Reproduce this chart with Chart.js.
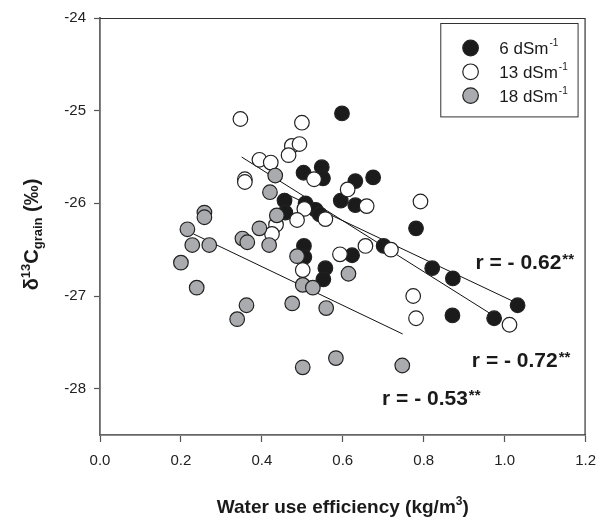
<!DOCTYPE html>
<html>
<head>
<meta charset="utf-8">
<script src="https://cdn.jsdelivr.net/npm/chart.js@4"></script>
<style>
  html, body { margin: 0; padding: 0; background: #fff; }
  #wrap { width: 606px; height: 521px; }
</style>
</head>
<body>
<div id="wrap"><canvas id="c" width="606" height="521"></canvas></div>
<script>
// ---- data ----
const xTicks = [0.0, 0.2, 0.4, 0.6, 0.8, 1.0, 1.2];
const yTicks = [-28, -27, -26, -25, -24];
const seriesNames = ['6 dSm', '13 dSm', '18 dSm'];

const wue6  = [0.598, 0.503, 0.548, 0.551, 0.631, 0.675, 0.456, 0.458, 0.508, 0.533, 0.543, 0.595, 0.631, 0.781, 0.701, 0.504, 0.505, 0.623, 0.557, 0.552, 0.821, 0.872, 1.032, 0.871, 0.974];
const d13c6 = [-25.03, -25.67, -25.61, -25.73, -25.76, -25.72, -25.97, -26.10, -26.00, -26.07, -26.12, -25.97, -26.02, -26.27, -26.46, -26.46, -26.58, -26.56, -26.70, -26.82, -26.70, -26.81, -27.10, -27.21, -27.24];

const wue13  = [0.347, 0.499, 0.474, 0.493, 0.466, 0.394, 0.422, 0.358, 0.358, 0.529, 0.612, 0.659, 0.792, 0.505, 0.487, 0.557, 0.435, 0.425, 0.656, 0.719, 0.593, 0.501, 0.774, 0.781, 1.012];
const d13c13 = [-25.09, -25.13, -25.38, -25.36, -25.48, -25.53, -25.56, -25.74, -25.77, -25.74, -25.85, -26.03, -25.98, -26.06, -26.18, -26.17, -26.23, -26.33, -26.46, -26.50, -26.55, -26.72, -27.00, -27.24, -27.31];

const wue18  = [0.258, 0.258, 0.216, 0.228, 0.270, 0.200, 0.239, 0.339, 0.362, 0.433, 0.420, 0.437, 0.394, 0.352, 0.364, 0.418, 0.487, 0.501, 0.526, 0.614, 0.475, 0.559, 0.583, 0.501, 0.747];
const d13c18 = [-26.10, -26.15, -26.28, -26.45, -26.45, -26.64, -26.91, -27.25, -27.10, -25.70, -25.88, -26.13, -26.27, -26.38, -26.42, -26.45, -26.57, -26.88, -26.91, -26.76, -27.08, -27.13, -27.67, -27.77, -27.75];

// regression line end points
const fit6X  = [0.456, 1.032];
const fit6Y  = [-25.89, -27.08];
const fit13X = [0.350, 0.990];
const fit13Y = [-25.50, -27.26];
const fit18X = [0.231, 0.748];
const fit18Y = [-26.33, -27.41];

const rLabels = ['r = - 0.62', 'r = - 0.72', 'r = - 0.53'];
const rLabelX = [0.928, 0.919, 0.697];
const rLabelY = [-26.63, -27.69, -28.10];

// ---- styling ----
const FONT = "'Liberation Sans', Arial, Helvetica, sans-serif";
const fills = ['#1b1b1b', '#ffffff', '#a9abae'];
const EDGE = '#222';

const pts = (xs, ys) => xs.map((x, i) => ({ x: x, y: ys[i] }));

const lineDs = (xs, ys) => ({
  type: 'line', data: pts(xs, ys), borderColor: '#111', borderWidth: 1,
  pointRadius: 0, fill: false, order: 10, tension: 0
});

const scatterDs = (label, xs, ys, idx, order) => ({
  type: 'scatter', label: label, data: pts(xs, ys),
  backgroundColor: fills[idx], borderColor: EDGE, borderWidth: 1.2,
  pointRadius: 7.3, pointHoverRadius: 7.3, order: order
});

const decor = {
  id: 'decor',
  afterDraw(chart) {
    const ctx = chart.ctx;
    const ca = chart.chartArea;
    const xs = chart.scales.x, ys = chart.scales.y;
    ctx.save();
    // top & right frame
    ctx.strokeStyle = '#333';
    ctx.lineWidth = 1.2;
    ctx.beginPath();
    ctx.moveTo(ca.left, ca.top + 0.5);
    ctx.lineTo(ca.right - 0.5, ca.top + 0.5);
    ctx.lineTo(ca.right - 0.5, ca.bottom);
    ctx.stroke();

    // legend box
    const bx = ca.right - 145.3, by = ca.top + 5, bw = 137.3, bh = 93.4;
    ctx.strokeStyle = '#333';
    ctx.lineWidth = 1;
    ctx.strokeRect(bx + 0.5, by + 0.5, bw, bh);
    for (let i = 0; i < seriesNames.length; i++) {
      const cy = by + 25 + i * 23.8;
      ctx.beginPath();
      ctx.arc(bx + 30.3, cy, 7.8, 0, Math.PI * 2);
      ctx.fillStyle = fills[i];
      ctx.fill();
      ctx.strokeStyle = EDGE;
      ctx.lineWidth = 1.2;
      ctx.stroke();
      ctx.fillStyle = '#1a1a1a';
      ctx.textBaseline = 'alphabetic';
      ctx.textAlign = 'left';
      ctx.font = '17px ' + FONT;
      const tx = bx + 59;
      const base = cy + 6;
      ctx.fillText(seriesNames[i], tx, base);
      const w = ctx.measureText(seriesNames[i]).width;
      ctx.font = '10px ' + FONT;
      ctx.fillText('-1', tx + w + 1, base - 8);
    }

    // r labels
    for (let i = 0; i < rLabels.length; i++) {
      const px = xs.getPixelForValue(rLabelX[i]);
      const py = ys.getPixelForValue(rLabelY[i]);
      ctx.fillStyle = '#1a1a1a';
      ctx.textAlign = 'left';
      ctx.textBaseline = 'alphabetic';
      ctx.font = 'bold 21px ' + FONT;
      ctx.fillText(rLabels[i], px, py + 7.5);
      const w = ctx.measureText(rLabels[i]).width;
      ctx.font = 'bold 15px ' + FONT;
      ctx.fillText('**', px + w + 1, py + 2);
    }

    // y axis title (rotated, with super/subscripts)
    const segs = [
      { t: '\u03B4', s: 20, dy: 0 },
      { t: '13', s: 13, dy: -8 },
      { t: 'C', s: 20, dy: 0 },
      { t: 'grain', s: 13, dy: 4 },
      { t: ' (\u2030)', s: 20, dy: 0 }
    ];
    ctx.save();
    ctx.translate(31, (ca.top + ca.bottom) / 2 + 8);
    ctx.rotate(-Math.PI / 2);
    let total = 0;
    segs.forEach(sg => { ctx.font = 'bold ' + sg.s + 'px ' + FONT; sg.w = ctx.measureText(sg.t).width; total += sg.w; });
    let cx = -total / 2;
    ctx.fillStyle = '#1a1a1a';
    ctx.textAlign = 'left';
    ctx.textBaseline = 'alphabetic';
    segs.forEach(sg => {
      ctx.font = 'bold ' + sg.s + 'px ' + FONT;
      ctx.fillText(sg.t, cx, 7 + sg.dy);
      cx += sg.w;
    });
    ctx.restore();

    // x axis title
    const xsegs = [
      { t: 'Water use efficiency (kg/m', s: 19, dy: 0 },
      { t: '3', s: 12, dy: -8 },
      { t: ')', s: 19, dy: 0 }
    ];
    let xt = 0;
    xsegs.forEach(sg => { ctx.font = 'bold ' + sg.s + 'px ' + FONT; sg.w = ctx.measureText(sg.t).width; xt += sg.w; });
    let xx = (ca.left + ca.right) / 2 - xt / 2;
    const xb = ca.bottom + 78;
    xsegs.forEach(sg => {
      ctx.font = 'bold ' + sg.s + 'px ' + FONT;
      ctx.fillText(sg.t, xx, xb + sg.dy);
      xx += sg.w;
    });
    ctx.restore();
  }
};

new Chart(document.getElementById('c'), {
  data: {
    datasets: [
      lineDs(fit6X, fit6Y),
      lineDs(fit13X, fit13Y),
      lineDs(fit18X, fit18Y),
      scatterDs(seriesNames[0], wue6, d13c6, 0, 3),
      scatterDs(seriesNames[1], wue13, d13c13, 1, 2),
      scatterDs(seriesNames[2], wue18, d13c18, 2, 1)
    ]
  },
  options: {
    responsive: false,
    animation: false,
    events: [],
    layout: { padding: { left: 0, right: 13, top: 18, bottom: 0 } },
    plugins: { legend: { display: false }, tooltip: { enabled: false } },
    scales: {
      x: {
        type: 'linear', min: 0, max: 1.2,
        afterBuildTicks: s => { s.ticks = xTicks.map(v => ({ value: v })); },
        afterFit: s => { s.height = 86; },
        grid: { drawOnChartArea: false, drawTicks: true, tickLength: 7, color: '#555', tickWidth: 1.2 },
        border: { display: true, color: '#666', width: 1.8 },
        ticks: { callback: v => Number(v).toFixed(1), padding: 10, color: '#222', font: { family: FONT, size: 15 }, maxRotation: 0 }
      },
      y: {
        type: 'linear', min: -28.5, max: -24,
        afterBuildTicks: s => { s.ticks = yTicks.map(v => ({ value: v })); },
        afterFit: s => { s.width = 100; },
        grid: { drawOnChartArea: false, drawTicks: true, tickLength: 6, color: '#555', tickWidth: 1.2 },
        border: { display: true, color: '#666', width: 1.8 },
        ticks: { callback: v => String(v), padding: 8, color: '#222', font: { family: FONT, size: 15 } }
      }
    }
  },
  plugins: [decor]
});
</script>
</body>
</html>
